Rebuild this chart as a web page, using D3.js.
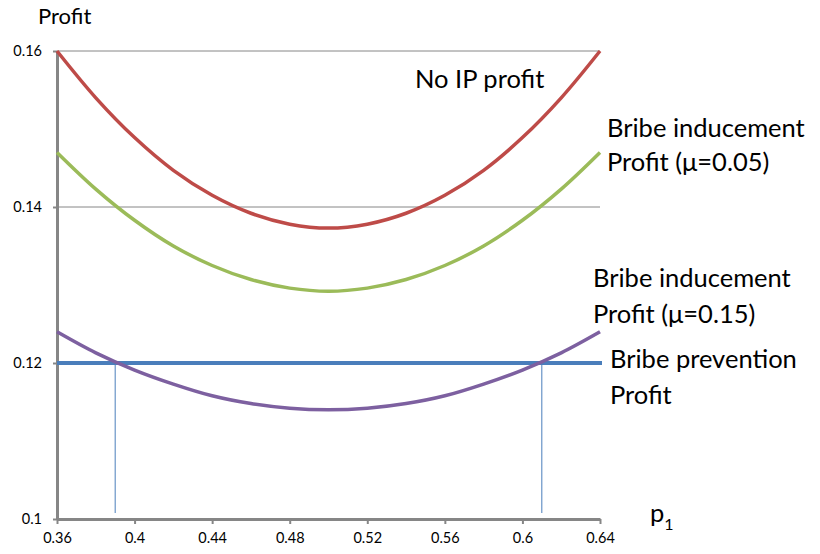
<!DOCTYPE html>
<html><head><meta charset="utf-8">
<script src="https://cdn.jsdelivr.net/npm/d3@7"></script>
<style>body{margin:0;background:#fff;} text{font-family:Lato,"Open Sans",sans-serif;fill:#000;}</style>
</head><body>
<svg id="c" width="820" height="554"></svg>
<script>
const xValues = [0.36,0.38,0.40,0.42,0.44,0.46,0.48,0.50,0.52,0.54,0.56,0.58,0.60,0.62,0.64];
const noIP =      [0.1600,0.1540,0.1489,0.1447,0.1415,0.1392,0.1378,0.1373,0.1378,0.1392,0.1415,0.1447,0.1489,0.1540,0.1600];
const bribe005 =  [0.1470,0.1423,0.1383,0.1350,0.1325,0.1307,0.1296,0.1292,0.1296,0.1307,0.1325,0.1350,0.1383,0.1423,0.1470];
const bribe015 =  [0.1240,0.1213,0.1191,0.1173,0.1158,0.1148,0.1142,0.1140,0.1142,0.1148,0.1158,0.1173,0.1191,0.1213,0.1240];
const prevention = 0.12;
const crossings = [0.39, 0.61];
const xTicks = [0.36,0.40,0.44,0.48,0.52,0.56,0.60,0.64];
const yTicks = [0.10,0.12,0.14,0.16];
const gridTicks = [0.14,0.16];

const svg = d3.select("#c");
const x = d3.scaleLinear().domain([0.36,0.64]).range([57,600]);
const y = d3.scaleLinear().domain([0.10,0.16]).range([519,51]);

// gridlines
svg.append("g").selectAll("line").data(gridTicks).join("line")
  .attr("x1",57).attr("x2",600).attr("y1",d=>y(d)).attr("y2",d=>y(d))
  .attr("stroke","#868686").attr("stroke-width",1);

// axes
const fmt = d=>String(+d.toFixed(2));
const xa = svg.append("g").attr("transform",`translate(0,${y(0.10)})`)
  .call(d3.axisBottom(x).tickValues(xTicks).tickFormat(fmt).tickSize(5).tickSizeOuter(0).tickPadding(9));
xa.select(".domain").attr("stroke","#868686").attr("stroke-width",3);
xa.selectAll(".tick line").attr("stroke","#868686").attr("stroke-width",2);
xa.selectAll("text").attr("font-size","14.5px").attr("fill","#000");

const ya = svg.append("g").attr("transform",`translate(${x(0.36)},0)`)
  .call(d3.axisLeft(y).tickValues(yTicks).tickFormat(fmt).tickSize(4).tickSizeOuter(0).tickPadding(11));
ya.select(".domain").attr("stroke","#868686").attr("stroke-width",3);
ya.selectAll(".tick line").attr("stroke","#868686").attr("stroke-width",2);
ya.selectAll("text").attr("font-size","14.5px").attr("fill","#000");

// vertical crossing lines
svg.append("g").selectAll("line").data(crossings).join("line")
  .attr("x1",d=>x(d)).attr("x2",d=>x(d)).attr("y1",y(0.1)-6).attr("y2",y(prevention))
  .attr("stroke","#4a7ebb").attr("stroke-width",1);

// prevention line
svg.append("line").attr("x1",x(0.36)).attr("x2",x(0.64)+2).attr("y1",y(prevention)).attr("y2",y(prevention))
  .attr("stroke","#4a7ebb").attr("stroke-width",4);

const line = d3.line().x((d,i)=>x(xValues[i])).y(d=>y(d)).curve(d3.curveCatmullRom);
[[noIP,"#be4b48"],[bribe005,"#9bbb59"],[bribe015,"#7d60a0"]].forEach(([s,c])=>{
  svg.append("path").datum(s).attr("d",line).attr("fill","none").attr("stroke",c).attr("stroke-width",3.5);
});

// title
svg.append("text").attr("x",38).attr("y",24).attr("font-size","22px").text("Profit");

// labels
const labels = [
  ["No IP profit",415,88],
  ["Bribe inducement",607,137],
  ["Profit (\u03bc=0.05)",607,171],
  ["Bribe inducement",593,287],
  ["Profit (\u03bc=0.15)",593,323],
  ["Bribe prevention",610,368],
  ["Profit",610,404]
];
svg.append("g").selectAll("text").data(labels).join("text")
  .attr("x",d=>d[1]).attr("y",d=>d[2]).attr("font-size","25.5px").text(d=>d[0]);
const p = svg.append("text").attr("x",650).attr("y",522).attr("font-size","25.5px");
p.append("tspan").text("p");
p.append("tspan").attr("font-size","16px").attr("dy",8).text("1");
</script>
</body></html>
